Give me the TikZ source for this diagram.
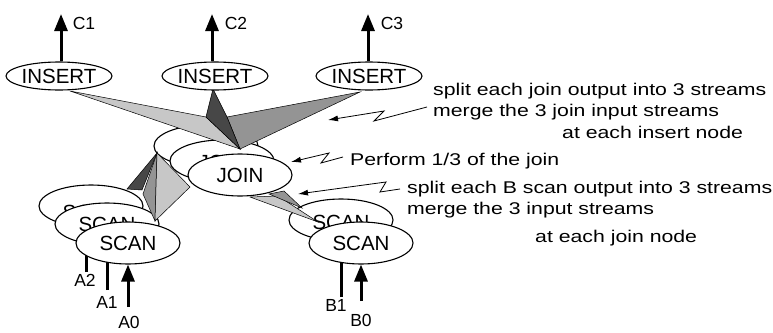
\documentclass[tikz,border=0pt]{standalone}
\usepackage{fontspec}
\setmainfont{Liberation Sans}
\newfontfamily\annfont[FakeStretch=1.25]{Liberation Sans}
\usetikzlibrary{shapes.geometric,arrows.meta}
\pgfdeclarelayer{bg}
\pgfdeclarelayer{back}
\pgfdeclarelayer{mid}
\pgfsetlayers{bg,back,mid,main}
\begin{document}
\begin{tikzpicture}[x=1pt,y=-1pt,
  ell/.style={ellipse, draw, line width=1.1pt, fill=white, minimum width=104pt, minimum height=42pt, inner sep=0pt, font=\fontsize{20.5}{24}\selectfont},
  ins/.style={ell, minimum width=106pt, minimum height=28pt},
  txt/.style={inner sep=0pt, font=\fontsize{20.5}{24}\selectfont},
  ann/.style={anchor=base west, inner sep=0pt, font={\annfont\fontsize{17}{20}\selectfont}},
  lab/.style={inner sep=0pt, font=\fontsize{17.5}{20}\selectfont},
  bigarrow/.style={line width=3pt, -{Triangle[length=17pt,width=13pt]}},
  callout/.style={line width=0.8pt, -{Latex[length=10pt,width=6pt]}},
  fan/.style={draw, line width=0.5pt},
  light/.style={fan, fill=black!22},
  medium/.style={fan, fill=black!42},
  dark/.style={fan, fill=black!72}]
\useasboundingbox (0,0) rectangle (773,332);

% front nodes
\node[ins] (ins1) at (59,76) {INSERT};
\node[ins] (ins2) at (215,76) {INSERT};
\node[ins] (ins3) at (369,76) {INSERT};
\node[ell] (join1) at (240,175) {JOIN};
\node[ell] (sa1) at (128,243) {SCAN};
\node[ell] (sb1) at (361,243) {SCAN};

% back nodes
\begin{pgfonlayer}{back}
\node[ell] (join3) at (206,146) {};
\node[txt] (join3t) at (206,152) {JOIN};
\node[ell] (join2) at (222,161) {};
\node[txt] (join2t) at (222,162) {JOIN};
\node[ell] (sa3) at (91,206) {};
\node[txt] (sa3t) at (91,212) {SCAN};
\node[ell] (sa2) at (107,224) {};
\node[txt] (sa2t) at (107,224) {SCAN};
\node[ell] (sb2) at (341,220) {};
\node[txt] (sb2t) at (341,222) {SCAN};
\end{pgfonlayer}

% arrows
\begin{pgfonlayer}{bg}
\coordinate (c1) at (61,14);
\coordinate (c2) at (212,14);
\coordinate (c3) at (368,14);
\draw[bigarrow] (c1 |- ins1.north) -- (c1);
\draw[bigarrow] (c2 |- ins2.north) -- (c2);
\draw[bigarrow] (c3 |- ins3.north) -- (c3);
\coordinate (qa0) at (128,307);
\coordinate (qa1) at (107,290);
\coordinate (qa2) at (86,272);
\coordinate (qb0) at (361,301);
\coordinate (qb1) at (341,297);
\draw[bigarrow] (qa0) -- (qa0 |- sa1.south);
\draw[bigarrow] (qa1) -- (qa1 |- sa2.center);
\draw[bigarrow] (qa2) -- (qa2 |- sa3.center);
\draw[bigarrow] (qb0) -- (qb0 |- sb1.south);
\draw[bigarrow] (qb1) -- (qb1 |- sb2.center);
\end{pgfonlayer}

% fans
\begin{pgfonlayer}{mid}
\coordinate (p1) at (240,149);
\coordinate (p2) at (227,117);
\coordinate (p3) at (206,117);
\coordinate (i1) at (70,91);
\coordinate (i2) at (213,89);
\coordinate (i3) at (360,92);
\filldraw[light] (i1) -- (p3) -- (p1) -- cycle;
\filldraw[medium] (i3) -- (p2) -- (p1) -- cycle;
\filldraw[dark] (i2) -- (p3) -- (p1) -- (p2) -- cycle;
\coordinate (jl) at (157,153);
\filldraw[dark] (jl) -- (127,189) -- (142,190) -- cycle;
\filldraw[medium] (jl) -- (143,194) -- (155,221) -- cycle;
\filldraw[light] (jl) -- (155,221) -- (190,187) -- cycle;
\filldraw[light] (250,197) -- (278,196) -- (318,222) -- cycle;
\filldraw[medium] (269,194) -- (284,191) -- (302,208) -- cycle;
\end{pgfonlayer}

% callouts
\coordinate (ke1) at (427,107);
\coordinate (kb1) at (374,121);
\coordinate (ka1) at (384,111);
\coordinate (kh1) at (328,120);
\draw[callout] (ke1) -- (kb1) -- (ka1) -- (kh1);
\coordinate (ke2) at (343,157);
\coordinate (kb2) at (321,163);
\coordinate (ka2) at (329,153);
\coordinate (kh2) at (291,162);
\draw[callout] (ke2) -- (kb2) -- (ka2) -- (kh2);
\coordinate (ke3) at (400,189);
\coordinate (kb3) at (380,192);
\coordinate (ka3) at (386,182);
\coordinate (kh3) at (298,194);
\draw[callout] (ke3) -- (kb3) -- (ka3) -- (kh3);

% texts
\node[ann] (t1) at (433,95) {split each join output into 3 streams};
\node[ann] (t2) at (433,116) {merge the 3 join input streams};
\node[ann] (t3) at (562,138) {at each insert node};
\node[ann] (t4) at (350,165) {Perform 1/3 of the join};
\node[ann] (t5) at (407,193) {split each B scan output into 3 streams};
\node[ann] (t6) at (407,214) {merge the 3 input streams};
\node[ann] (t7) at (535,242) {at each join node};

\node[lab] (lc1) at (84,23) {C1};
\node[lab] (lc2) at (236,23) {C2};
\node[lab] (lc3) at (392,23) {C3};
\node[lab] (la2) at (85,280) {A2};
\node[lab] (la1) at (107,302) {A1};
\node[lab] (la0) at (129,322) {A0};
\node[lab] (lb1) at (336,305) {B1};
\node[lab] (lb0) at (361,320) {B0};
\end{tikzpicture}
\end{document}
